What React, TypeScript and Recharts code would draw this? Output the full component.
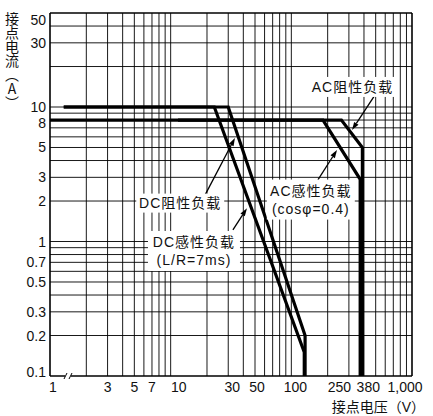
import React from 'react';
import {
  LineChart,
  Line,
  XAxis,
  YAxis,
  ReferenceLine,
  ReferenceDot,
  Label,
} from 'recharts';

const FONT = "'Liberation Sans', Arial, 'Noto Sans CJK SC', sans-serif";
const CJK = "'Noto Sans CJK SC', sans-serif";

// grid values (log-log)
const xGridValues = [1, 2, 3, 4, 5, 6, 7, 8, 9, 10, 20, 30, 40, 50, 60, 70, 80, 90, 100, 200, 300, 400, 500, 600, 700, 800, 900, 1000];
const yGridValues = [0.1, 0.2, 0.3, 0.4, 0.5, 0.6, 0.7, 0.8, 0.9, 1, 2, 3, 4, 5, 6, 7, 8, 9, 10, 20, 30, 40, 50];

// tick labels
const xTickValues = [1, 3, 5, 7, 10, 30, 50, 100, 250, 380, 1000];
const xTickLabels = ['1', '3', '5', '7', '10', '30', '50', '100', '250', '380', '1,000'];
const yTickValues = [0.1, 0.2, 0.3, 0.5, 0.7, 1, 2, 3, 5, 8, 10, 30, 50];
const yTickLabels = ['0.1', '0.2', '0.3', '0.5', '0.7', '1', '2', '3', '5', '8', '10', '30', '50'];

// 接点电压 (V) / 接点电流 (A)
const dcResistiveV = [1.3, 30, 130, 130];
const dcResistiveA = [10, 10, 0.2, 0.1];
const dcInductiveV = [1.3, 23, 128, 128];
const dcInductiveA = [10, 10, 0.15, 0.1];
const acResistiveV = [1, 260, 388, 388];
const acResistiveA = [8, 8, 5, 0.1];
const acInductiveV = [11.5, 183, 372, 372];
const acInductiveA = [8, 8, 2.9, 0.1];

// callout boxes, anchored in data coords (V, A)
const callouts = [
  { lines: ['AC阻性负载'], v: 321, a: 14.1, w: 90, h: 20 },
  { lines: ['AC感性负载', '(cosφ=0.4)'], v: 145, a: 2.05, w: 88, h: 40 },
  { lines: ['DC阻性负载'], v: 12, a: 1.93, w: 88, h: 19 },
  { lines: ['DC感性负载', '(L/R=7ms)'], v: 15.6, a: 0.85, w: 92, h: 40 },
];

// leader arrows: from -> to (V, A)
const arrows = [
  { from: [494, 12.3], to: [318, 6.74] },
  { from: [166, 2.87], to: [239, 4.79] },
  { from: [19.3, 2.22], to: [34.1, 5.89] },
  { from: [32.8, 1.22], to: [42.9, 1.77] },
];

const toPoints = (vs: number[], as: number[]) => vs.map((v, i) => ({ v, a: as[i] }));

const series = [
  toPoints(dcResistiveV, dcResistiveA),
  toPoints(dcInductiveV, dcInductiveA),
  toPoints(acResistiveV, acResistiveA),
  toPoints(acInductiveV, acInductiveA),
];

const xLabelShift: Record<number, number> = { 1: 3, 10: 8, 30: 4, 50: 2, 100: 4, 380: 7, 1000: -7 };
const yLabelShift: Record<number, number> = { 50: 7, 8: 3, 0.1: -4 };

const XTick = ({ x, y, payload }: any) => {
  const i = xTickValues.indexOf(payload.value);
  const dx = xLabelShift[payload.value] ?? 0;
  return (
    <g>
      <text x={x + dx} y={y + 16} textAnchor="middle" fontSize={14} fontFamily={FONT} fill="#111">
        {xTickLabels[i]}
      </text>
      {payload.value === 1 && (
        <g>
          <rect x={x + 15} y={y - 3} width={6} height={6} fill="#fff" />
          <line x1={x + 14} y1={y + 3} x2={x + 17} y2={y - 3} stroke="#000" strokeWidth={1} />
          <line x1={x + 19} y1={y + 3} x2={x + 22} y2={y - 3} stroke="#000" strokeWidth={1} />
        </g>
      )}
    </g>
  );
};

const YTick = ({ x, y, payload }: any) => {
  const i = yTickValues.indexOf(payload.value);
  const dy = yLabelShift[payload.value] ?? 0;
  return (
    <text x={x} y={y + 5 + dy} textAnchor="end" fontSize={14} fontFamily={FONT} fill="#111">
      {yTickLabels[i]}
    </text>
  );
};

const CalloutBox = ({ cx, cy, item }: any) => {
  const lh = 18;
  const first = cy - ((item.lines.length - 1) * lh) / 2;
  return (
    <g>
      <rect x={cx - item.w / 2} y={cy - item.h / 2} width={item.w} height={item.h} fill="#fff" />
      {item.lines.map((t: string, k: number) => (
        <text
          key={k}
          x={cx}
          y={first + k * lh + 5}
          textAnchor="middle"
          fontSize={14}
          letterSpacing={1}
          fontFamily={FONT}
          fill="#111"
        >
          {t}
        </text>
      ))}
    </g>
  );
};

const Arrow = ({ x1, y1, x2, y2 }: any) => {
  const ang = Math.atan2(y2 - y1, x2 - x1);
  const len = 8;
  const half = 2.6;
  const bx = x2 - len * Math.cos(ang);
  const by = y2 - len * Math.sin(ang);
  const px = -Math.sin(ang) * half;
  const py = Math.cos(ang) * half;
  return (
    <g>
      <line x1={x1} y1={y1} x2={bx} y2={by} stroke="#000" strokeWidth={1.3} />
      <polygon points={`${x2},${y2} ${bx + px},${by + py} ${bx - px},${by - py}`} fill="#000" />
    </g>
  );
};

const YTitle = () => (
  <text
    x={12}
    y={12}
    fontSize={14}
    fontFamily={CJK}
    fill="#111"
    style={{ writingMode: 'vertical-rl', textOrientation: 'upright' } as any}
  >
    接点电流（A）
  </text>
);

const XTitle = () => (
  <text x={425} y={412} textAnchor="end" fontSize={14} fontFamily={FONT} fill="#111">
    接点电压（V）
  </text>
);

export default function App() {
  return (
    <div style={{ position: 'absolute', left: 0, top: 0, background: '#fff' }}>
      <LineChart width={433} height={416} margin={{ top: 13, right: 21, bottom: 0, left: 0 }}>
        <XAxis
          dataKey="v"
          type="number"
          scale="log"
          domain={[1, 1000]}
          allowDataOverflow
          ticks={xTickValues}
          tick={<XTick />}
          tickSize={0}
          tickMargin={0}
          axisLine={false}
          tickLine={false}
          height={40}
          interval={0}
        >
          <Label content={<XTitle />} />
        </XAxis>
        <YAxis
          type="number"
          scale="log"
          domain={[0.1, 50]}
          allowDataOverflow
          ticks={yTickValues}
          tick={<YTick />}
          tickSize={0}
          tickMargin={4}
          axisLine={false}
          tickLine={false}
          width={50}
          interval={0}
        >
          <Label content={<YTitle />} />
        </YAxis>

        {xGridValues.map((v) => (
          <ReferenceLine
            key={`gx-${v}`}
            x={v}
            stroke="#000"
            strokeWidth={v === 1 || v === 1000 ? 1.6 : 1}
            strokeOpacity={v === 1 || v === 1000 ? 1 : 0.9}
          />
        ))}
        {yGridValues.map((v) => (
          <ReferenceLine
            key={`gy-${v}`}
            y={v}
            stroke="#000"
            strokeWidth={v === 0.1 || v === 50 ? 1.6 : 1}
            strokeOpacity={v === 0.1 || v === 50 ? 1 : 0.9}
          />
        ))}

        {callouts.map((c, k) => (
          <ReferenceDot
            key={`box-${k}`}
            x={c.v}
            y={c.a}
            r={1}
            ifOverflow="visible"
            shape={(p: any) => <CalloutBox cx={p.cx} cy={p.cy} item={c} />}
          />
        ))}

        {series.map((d, k) => (
          <Line
            key={`s-${k}`}
            data={d}
            dataKey="a"
            type="linear"
            stroke="#000"
            strokeWidth={3.2}
            strokeLinejoin="miter"
            dot={false}
            activeDot={false}
            isAnimationActive={false}
          />
        ))}

        {arrows.map((ar, k) => (
          <ReferenceLine
            key={`ar-${k}`}
            segment={[
              { x: ar.from[0], y: ar.from[1] },
              { x: ar.to[0], y: ar.to[1] },
            ]}
            ifOverflow="visible"
            shape={(p: any) => <Arrow {...p} />}
          />
        ))}
      </LineChart>
    </div>
  );
}
